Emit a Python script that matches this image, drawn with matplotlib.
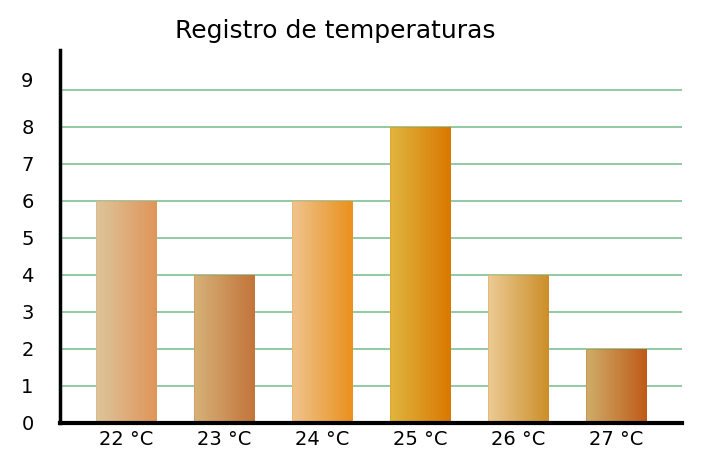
import numpy as np
import matplotlib.pyplot as plt
from matplotlib.colors import LinearSegmentedColormap
import matplotlib.transforms as mtransforms

# Data
categories = ['22 °C', '23 °C', '24 °C', '25 °C', '26 °C', '27 °C']
values = [6, 4, 6, 8, 4, 2]

# left -> right gradient colours for each bar
left_colors = ['#dcc59a', '#d6b278', '#efc48e', '#e0b640', '#eccb95', '#cfae6a']
right_colors = ['#e0955a', '#c3743a', '#ea901c', '#d97800', '#cc8e28', '#bf5a18']

fig = plt.figure(figsize=(7.06, 4.72), dpi=100)
ax = fig.add_axes([60 / 706, 49 / 472, 622 / 706, 373 / 472])

x = np.arange(len(categories))
bars = ax.bar(x, values, width=0.62, color='none', edgecolor='none', zorder=3)

grad = np.linspace(0, 1, 256).reshape(1, -1)
for bar, c0, c1 in zip(bars, left_colors, right_colors):
    cmap = LinearSegmentedColormap.from_list('g', [c0, c1])
    x0, y0 = bar.get_x(), bar.get_y()
    w, h = bar.get_width(), bar.get_height()
    im = ax.imshow(grad, cmap=cmap, aspect='auto', extent=(x0, x0 + w, y0, y0 + h),
                   zorder=3, interpolation='bicubic')
    im.set_clip_path(bar)
    ax.add_patch(plt.Rectangle((x0, y0), w, h, facecolor='none',
                               edgecolor=c1, linewidth=0.6, alpha=0.3, zorder=4))

ax.set_xlim(-0.673, 5.673)
ax.set_ylim(0, 10.07)
ax.set_yticks(range(10))
ax.set_xticks(x)
ax.set_xticklabels(categories, fontsize=14)
ax.tick_params(axis='both', length=0, labelsize=14)
ax.tick_params(axis='y', pad=19)
ax.tick_params(axis='x', pad=5)

# the "9" label sits a bit higher in the original
lbl9 = ax.get_yticklabels()[9]
lbl9.set_transform(lbl9.get_transform() + mtransforms.ScaledTranslation(0, 10 / 100, fig.dpi_scale_trans))

for y in range(1, 10):
    ax.axhline(y, color='#92c9a2', linewidth=1.4, zorder=1)

for s in ['top', 'right']:
    ax.spines[s].set_visible(False)
ax.spines['left'].set_linewidth(2.5)
ax.spines['bottom'].set_linewidth(3)
ax.spines['left'].set_zorder(5)
ax.spines['bottom'].set_zorder(5)

fig.text(335 / 706, 1 - 31 / 472, 'Registro de temperaturas', fontsize=18,
         ha='center', va='center')

fig.savefig('out.png', dpi=100)
